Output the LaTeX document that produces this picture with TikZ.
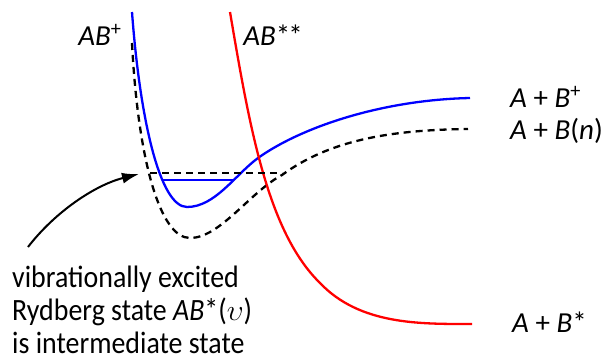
\documentclass[tikz,border=0pt]{standalone}
\usepackage{fontspec}
\setmainfont{Carlito}
\newfontfamily\vibfont{Carlito}[FakeStretch=0.9]
\usepackage{tikz}
\usetikzlibrary{arrows.meta,positioning}
\definecolor{pcblue}{HTML}{0000FF}
\definecolor{pcred}{HTML}{FF0000}
\definecolor{pcink}{HTML}{000000}

\begin{document}
\begin{tikzpicture}[x=1pt,y=-1pt,
    curve/.style={line width=2.3pt},
    dashcurve/.style={line width=2.3pt,pcink,dash pattern=on 7pt off 5pt},
    lbl/.style={font=\fontsize{29}{34}\selectfont,inner sep=0pt}]
      \useasboundingbox (0,0) rectangle (602,356);
      % potential curves
      \draw[curve,pcblue] (132,12) .. controls (140,120) and (160,207) .. (187,207)
        .. controls (215,207) and (235,175) .. (258,158)
        .. controls (300,128) and (380,100) .. (470,98);
      \draw[dashcurve] (132,43) .. controls (138,160) and (160,238) .. (190,238)
        .. controls (220,238) and (250,192) .. (282,175)
        .. controls (330,140) and (390,130) .. (468,129);
      \draw[curve,pcred] (230,12) .. controls (250,130) and (268,232) .. (320,283)
        .. controls (360,325) and (420,324) .. (472,324);
      % levels
      \draw[dashcurve] (150,173) -- (282,173);
      \draw[curve,pcblue] (163,180) -- (233,180);
      % labels
      \node[lbl,anchor=base] (abplus) at (100,45) {\itshape AB\textsuperscript{\upshape+}};
      \node[lbl,anchor=base] (abstar) at (273,45) {\itshape AB\upshape*\kern-2pt*};
      \node[lbl,anchor=base west] (aplusbplus) at (510,107) {\itshape A \upshape+ \itshape B\textsuperscript{\upshape+}};
      \node[lbl,anchor=base west] (aplusbn) at (510,139) {\itshape A \upshape+ \itshape B\upshape(\itshape n\upshape)};
      \node[lbl,anchor=base west] (aplusbstar) at (512,332) {\itshape A \upshape+ \itshape B\upshape*};
      \node[lbl,anchor=north west,align=left,font=\vibfont\fontsize{31}{33}\selectfont] (vibtext) at (12,266)
        {vibrationally excited\\ Rydberg state \textit{AB}*(\scalebox{1.2}{$\upsilon$})\\ is intermediate state};
      % arrow
      \coordinate (arrowstart) at (28,247);
      \coordinate (arrowtip) at (139,174);
      \draw[line width=2pt,-{Latex[length=17pt,width=11pt]}] (arrowstart) .. controls (55,212) and (95,185) .. (arrowtip);
    \end{tikzpicture}
\end{document}
